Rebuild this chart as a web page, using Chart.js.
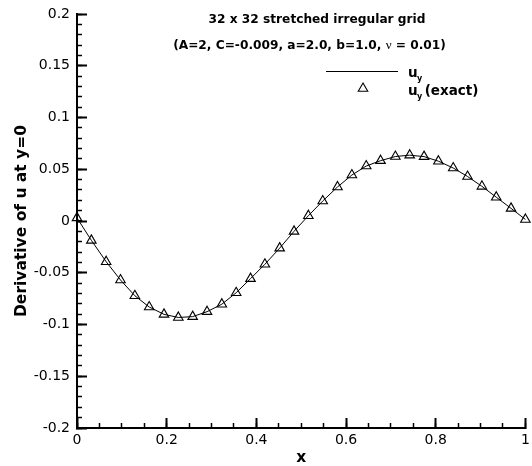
<!DOCTYPE html>
<html>
<head>
<meta charset="utf-8">
<script src="https://cdn.jsdelivr.net/npm/chart.js@4/dist/chart.umd.min.js"></script>
<style>
html,body{margin:0;padding:0;background:#fff;}
#wrap{width:532px;height:466px;position:relative;}
canvas{display:block;}
</style>
</head>
<body>
<div id="wrap"><canvas id="c" width="532" height="466"></canvas></div>
<script>
// ---- data ----
const xValues = [0, 0.032, 0.065, 0.097, 0.129, 0.161, 0.194, 0.226, 0.258, 0.290,
  0.323, 0.355, 0.387, 0.419, 0.452, 0.484, 0.516, 0.548, 0.581, 0.613,
  0.645, 0.677, 0.710, 0.742, 0.774, 0.806, 0.839, 0.871, 0.903, 0.935, 0.968, 1];
const uyNumeric = [0.003, -0.0187, -0.0393, -0.0570, -0.0722, -0.0831, -0.0902, -0.0932, -0.0924, -0.0876,
  -0.0804, -0.0693, -0.0557, -0.0418, -0.0262, -0.0100, 0.0051, 0.0193, 0.0329, 0.0444,
  0.0531, 0.0583, 0.0623, 0.0636, 0.0622, 0.0578, 0.0512, 0.0430, 0.0335, 0.0230, 0.0122, 0.0015];
const uyExact = [0.003, -0.0187, -0.0393, -0.0570, -0.0722, -0.0831, -0.0902, -0.0932, -0.0924, -0.0876,
  -0.0804, -0.0693, -0.0557, -0.0418, -0.0262, -0.0100, 0.0051, 0.0193, 0.0329, 0.0444,
  0.0531, 0.0583, 0.0623, 0.0636, 0.0622, 0.0578, 0.0512, 0.0430, 0.0335, 0.0230, 0.0122, 0.0015];
const xTicks = [0, 0.2, 0.4, 0.6, 0.8, 1];
const xTickLabels = ["0", "0.2", "0.4", "0.6", "0.8", "1"];
const yTicks = [-0.2, -0.15, -0.1, -0.05, 0, 0.05, 0.1, 0.15, 0.2];
const yTickLabels = ["-0.2", "-0.15", "-0.1", "-0.05", "0", "0.05", "0.1", "0.15", "0.2"];
const xMinorStep = 0.05;
const yMinorStep = 0.01;
const titleLine1 = "32 x 32 stretched irregular grid";
const titleLine2Parts = ["(A=2, C=-0.009, a=2.0, b=1.0, ", "\u03BD", " = 0.01)"];
const xTitle = "x";
const yTitle = "Derivative of u at y=0";
const seriesNames = ["u", "y", " (exact)"];

// ---- rendering ----
const BOLD = '"DejaVu Sans", sans-serif';
const tickFont = {family: 'DejaVu Sans', size: 14};

function minorTicks(min, max, step) {
  const out = [];
  const n = Math.round((max - min) / step);
  for (let i = 0; i <= n; i++) out.push({value: min + i * step});
  return out;
}

const overlay = {
  id: 'overlay',
  afterDraw(chart) {
    const ctx = chart.ctx;
    ctx.save();
    ctx.fillStyle = '#000';
    ctx.textBaseline = 'alphabetic';
    // title line 1
    ctx.font = 'bold 12.2px ' + BOLD;
    ctx.textAlign = 'center';
    ctx.fillText(titleLine1, 317, 22.5);
    // title line 2 (nu in a serif face)
    ctx.textAlign = 'left';
    const fonts = ['bold 12.2px ' + BOLD, '13px "Liberation Serif", serif', 'bold 12.2px ' + BOLD];
    let total = 0;
    const widths = titleLine2Parts.map((t, i) => { ctx.font = fonts[i]; const w = ctx.measureText(t).width; total += w; return w; });
    let x = 309.5 - total / 2;
    titleLine2Parts.forEach((t, i) => { ctx.font = fonts[i]; ctx.fillText(t, x, 48.5); x += widths[i]; });

    // legend
    ctx.strokeStyle = '#000';
    ctx.lineWidth = 1;
    ctx.beginPath();
    ctx.moveTo(326, 71.5);
    ctx.lineTo(398, 71.5);
    ctx.stroke();
    ctx.save();
    ctx.fillStyle = 'rgba(0,0,0,0)';
    ctx.strokeStyle = '#000';
    ctx.lineWidth = 1.1;
    Chart.helpers.drawPoint(ctx, {pointStyle: 'triangle', radius: 5.5, borderWidth: 1.1, rotation: 0}, 363, 88.5);
    ctx.restore();

    ctx.fillStyle = '#000';
    ctx.font = 'bold 13.5px ' + BOLD;
    ctx.fillText(seriesNames[0], 408, 77);
    let uw = ctx.measureText(seriesNames[0]).width;
    ctx.font = 'bold 8px ' + BOLD;
    ctx.fillText(seriesNames[1], 408 + uw - 0.5, 81);

    ctx.font = 'bold 13.5px ' + BOLD;
    ctx.fillText(seriesNames[0], 408, 95);
    ctx.font = 'bold 8px ' + BOLD;
    ctx.fillText(seriesNames[1], 408 + uw - 0.5, 99);
    ctx.font = 'bold 13.5px ' + BOLD;
    ctx.fillText(seriesNames[2], 420, 95);
    ctx.restore();
  }
};

const ctx = document.getElementById('c').getContext('2d');
new Chart(ctx, {
  type: 'scatter',
  data: {
    datasets: [
      {
        label: 'u_y',
        data: xValues.map((x, i) => ({x: x, y: uyNumeric[i]})),
        showLine: true,
        borderColor: '#000',
        borderWidth: 1,
        pointRadius: 0,
        tension: 0,
        clip: false,
        order: 2
      },
      {
        label: 'u_y (exact)',
        data: xValues.map((x, i) => ({x: x, y: uyExact[i]})),
        showLine: false,
        pointStyle: 'triangle',
        pointRadius: 5.5,
        pointBorderWidth: 1.1,
        borderColor: '#000',
        backgroundColor: 'rgba(0,0,0,0)',
        clip: false,
        order: 1
      }
    ]
  },
  options: {
    responsive: false,
    animation: false,
    devicePixelRatio: 1,
    events: [],
    layout: {padding: {top: 14, right: 1, left: 0, bottom: 0}},
    plugins: {legend: {display: false}, tooltip: {enabled: false}},
    scales: {
      x: {
        type: 'linear', position: 'bottom', weight: 1, min: 0, max: 1,
        afterBuildTicks(s) { s.ticks = xTicks.map(v => ({value: v})); },
        afterFit(s) { s.height = 38; s.paddingLeft = 0; s.paddingRight = 0; },
        grid: {drawOnChartArea: false, drawTicks: true, tickLength: -10, tickWidth: 2, tickColor: '#000'},
        border: {display: true, color: '#000', width: 2},
        ticks: {font: tickFont, color: '#000', padding: 14, maxRotation: 0, autoSkip: false,
          callback: (v, i) => xTickLabels[i]},
        title: {display: true, text: xTitle, color: '#000',
          font: {family: 'DejaVu Sans', size: 15.5, weight: 'bold', lineHeight: 1},
          padding: {top: 0, bottom: 0.6}}
      },
      xMinor: {
        type: 'linear', position: 'bottom', weight: 0, min: 0, max: 1,
        afterBuildTicks(s) { s.ticks = minorTicks(0, 1, xMinorStep); },
        afterFit(s) { s.height = 0; s.paddingLeft = 0; s.paddingRight = 0; },
        grid: {drawOnChartArea: false, drawTicks: true, tickLength: -5, tickWidth: 1.5, tickColor: '#000'},
        border: {display: true, color: '#000', width: 2},
        ticks: {display: false}
      },
      y: {
        type: 'linear', position: 'left', weight: 1, min: -0.2, max: 0.2,
        afterBuildTicks(s) { s.ticks = yTicks.map(v => ({value: v})); },
        afterFit(s) { s.width = 77; s.paddingTop = 0; s.paddingBottom = 0; },
        grid: {drawOnChartArea: false, drawTicks: true, tickLength: -10, tickWidth: 2, tickColor: '#000'},
        border: {display: true, color: '#000', width: 2},
        ticks: {font: tickFont, color: '#000', padding: 17, autoSkip: false,
          callback: (v, i) => yTickLabels[i]},
        title: {display: true, text: yTitle, color: '#000',
          font: {family: 'DejaVu Sans', size: 15.5, weight: 'bold', lineHeight: 1},
          padding: {top: 14, bottom: 0}}
      },
      yMinor: {
        type: 'linear', position: 'left', weight: 0, min: -0.2, max: 0.2,
        afterBuildTicks(s) { s.ticks = minorTicks(-0.2, 0.2, yMinorStep); },
        afterFit(s) { s.width = 0; s.paddingTop = 0; s.paddingBottom = 0; },
        grid: {drawOnChartArea: false, drawTicks: true, tickLength: -5, tickWidth: 1.5, tickColor: '#000'},
        border: {display: true, color: '#000', width: 2},
        ticks: {display: false}
      }
    }
  },
  plugins: [overlay]
});
</script>
</body>
</html>
